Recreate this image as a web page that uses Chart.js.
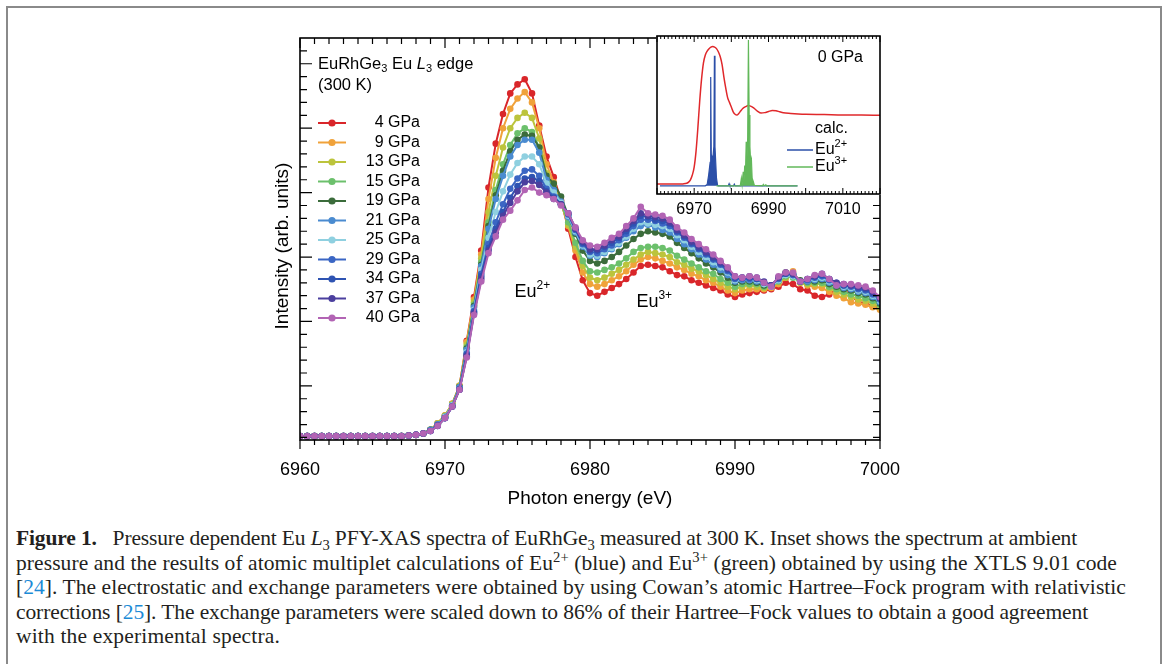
<!DOCTYPE html>
<html>
<head>
<meta charset="utf-8">
<title>EuRhGe3 Eu L3 PFY-XAS</title>
<script src="https://cdn.jsdelivr.net/npm/chart.js@4.4.1/dist/chart.umd.min.js"></script>
<style>
  body { margin: 0; background: #fff; }
  #frame { position: absolute; left: 6px; top: 6px; width: 1156px; height: 720px; box-sizing: border-box;
           border: 2px solid #8a8a8a; border-bottom: none; }
  #main { position: absolute; left: 0; top: 0; }
  #inset { position: absolute; left: 617px; top: 16px; }
  #caption { position: absolute; left: 16px; top: 526px; color: #231f20;
             font-family: "Liberation Serif", "DejaVu Serif", serif; font-size: 21.5px; line-height: 24.5px; }
  #caption .ln { white-space: nowrap; width: max-content; }
  #caption sub, #caption sup { font-size: 68%; line-height: 0; }
  #caption .ref { color: #1b8ad6; }
</style>
</head>
<body>
<div id="frame"></div>
<canvas id="main" width="1165" height="520"></canvas>
<canvas id="inset" width="283" height="214"></canvas>
<div id="caption">
  <div class="ln"><b>Figure 1.</b>&ensp; Pressure dependent Eu <i>L</i><sub>3</sub> PFY-XAS spectra of EuRhGe<sub>3</sub> measured at 300 K. Inset shows the spectrum at ambient</div>
  <div class="ln">pressure and the results of atomic multiplet calculations of Eu<sup>2+</sup> (blue) and Eu<sup>3+</sup> (green) obtained by using the XTLS 9.01 code</div>
  <div class="ln">[<span class="ref">24</span>]. The electrostatic and exchange parameters were obtained by using Cowan’s atomic Hartree–Fock program with relativistic</div>
  <div class="ln">corrections [<span class="ref">25</span>]. The exchange parameters were scaled down to 86% of their Hartree–Fock values to obtain a good agreement</div>
  <div class="ln">with the experimental spectra.</div>
</div>
<script>
// photon energy grid (eV) shared by all pressure spectra
const energy = [6960, 6960.5, 6961, 6961.5, 6962, 6962.5, 6963, 6963.5, 6964, 6964.5, 6965, 6965.5,
  6966, 6966.5, 6967, 6967.5, 6968, 6968.5, 6969, 6969.5, 6970, 6970.5, 6971, 6971.5, 6972, 6972.5,
  6973, 6973.5, 6974, 6974.5, 6975, 6975.5, 6976, 6976.5, 6977, 6977.5, 6978, 6978.5, 6979, 6979.5,
  6980, 6980.5, 6981, 6981.5, 6982, 6982.5, 6983, 6983.5, 6984, 6984.5, 6985, 6985.5, 6986, 6986.5,
  6987, 6987.5, 6988, 6988.5, 6989, 6989.5, 6990, 6990.5, 6991, 6991.5, 6992, 6992.5, 6993, 6993.5,
  6994, 6994.5, 6995, 6995.5, 6996, 6996.5, 6997, 6997.5, 6998, 6998.5, 6999, 6999.5, 7000];

const pressures = ['4 GPa', '9 GPa', '13 GPa', '15 GPa', '19 GPa', '21 GPa', '25 GPa', '29 GPa', '34 GPa', '37 GPa', '40 GPa'];
const colors = ['#d9262a', '#f0a23a', '#bcc43c', '#6cc06c', '#3b6c3b', '#4a8bd0', '#8fd0e0', '#3b66c4', '#2e53b2', '#4b3f9e', '#b264b4'];

const p4 = [0.11, 0.11, 0.11, 0.11, 0.11, 0.11, 0.11, 0.11, 0.11, 0.11, 0.11, 0.11, 0.11, 0.11, 0.11, 0.115, 0.12, 0.13,
  0.16, 0.21, 0.27, 0.36,
  0.50, 0.85, 1.19, 1.55, 2.04, 2.38, 2.61, 2.77, 2.84, 2.88, 2.77, 2.52, 2.28, 2.12, 1.94, 1.72, 1.50, 1.32, 1.22, 1.20,
  1.23, 1.26, 1.29, 1.33, 1.38, 1.43, 1.44, 1.43, 1.42, 1.39, 1.36, 1.35, 1.32, 1.30, 1.28, 1.26, 1.24, 1.21, 1.19, 1.21,
  1.22, 1.23, 1.24, 1.25, 1.27, 1.30, 1.29, 1.25, 1.24, 1.20, 1.19, 1.21, 1.25, 1.25, 1.20, 1.15, 1.14, 1.12, 1.10];
const p9 = [0.11, 0.11, 0.11, 0.11, 0.11, 0.11, 0.11, 0.11, 0.11, 0.11, 0.11, 0.11, 0.11, 0.11, 0.11, 0.115, 0.12, 0.13,
  0.16, 0.21, 0.27, 0.36,
  0.50, 0.84, 1.17, 1.52, 1.95, 2.27, 2.50, 2.65, 2.73, 2.78, 2.70, 2.50, 2.22, 2.08, 1.93, 1.74, 1.55, 1.38, 1.29, 1.27,
  1.29, 1.32, 1.35, 1.39, 1.44, 1.48, 1.50, 1.49, 1.47, 1.45, 1.42, 1.40, 1.37, 1.35, 1.32, 1.30, 1.27, 1.24, 1.22, 1.24,
  1.25, 1.25, 1.25, 1.26, 1.29, 1.34, 1.39, 1.30, 1.28, 1.27, 1.26, 1.23, 1.20, 1.18, 1.15, 1.14, 1.13, 1.11, 1.09];
const p13 = [0.11, 0.11, 0.11, 0.11, 0.11, 0.11, 0.11, 0.11, 0.11, 0.11, 0.11, 0.11, 0.11, 0.11, 0.11, 0.115, 0.12, 0.13,
  0.16, 0.21, 0.27, 0.36,
  0.50, 0.82, 1.15, 1.49, 1.85, 2.13, 2.35, 2.50, 2.58, 2.62, 2.58, 2.42, 2.15, 2.04, 1.92, 1.75, 1.58, 1.43, 1.34, 1.32,
  1.34, 1.37, 1.40, 1.44, 1.48, 1.52, 1.54, 1.53, 1.52, 1.50, 1.46, 1.44, 1.41, 1.39, 1.36, 1.33, 1.30, 1.27, 1.25, 1.27,
  1.28, 1.27, 1.26, 1.27, 1.31, 1.34, 1.35, 1.30, 1.29, 1.29, 1.29, 1.26, 1.23, 1.21, 1.19, 1.17, 1.16, 1.14, 1.11];
const p15 = [0.11, 0.11, 0.11, 0.11, 0.11, 0.11, 0.11, 0.11, 0.11, 0.11, 0.11, 0.11, 0.11, 0.11, 0.11, 0.115, 0.12, 0.13,
  0.16, 0.20, 0.26, 0.35,
  0.49, 0.80, 1.13, 1.46, 1.77, 2.02, 2.22, 2.37, 2.46, 2.50, 2.47, 2.35, 2.12, 2.02, 1.92, 1.77, 1.61, 1.47, 1.39, 1.38,
  1.40, 1.42, 1.45, 1.49, 1.54, 1.57, 1.58, 1.58, 1.57, 1.55, 1.51, 1.48, 1.45, 1.42, 1.39, 1.37, 1.33, 1.30, 1.27, 1.29,
  1.29, 1.29, 1.27, 1.27, 1.31, 1.35, 1.34, 1.31, 1.30, 1.30, 1.30, 1.27, 1.25, 1.23, 1.21, 1.20, 1.18, 1.16, 1.13];
const p19 = [0.11, 0.11, 0.11, 0.11, 0.11, 0.11, 0.11, 0.11, 0.11, 0.11, 0.11, 0.11, 0.11, 0.11, 0.11, 0.115, 0.12, 0.13,
  0.16, 0.20, 0.26, 0.35,
  0.49, 0.79, 1.12, 1.44, 1.74, 1.98, 2.17, 2.32, 2.41, 2.45, 2.44, 2.35, 2.13, 2.07, 1.97, 1.82, 1.68, 1.55, 1.47, 1.45,
  1.47, 1.50, 1.54, 1.59, 1.64, 1.68, 1.70, 1.69, 1.68, 1.66, 1.61, 1.57, 1.53, 1.49, 1.45, 1.42, 1.38, 1.34, 1.30, 1.31,
  1.31, 1.30, 1.28, 1.28, 1.33, 1.38, 1.36, 1.32, 1.31, 1.31, 1.32, 1.29, 1.27, 1.25, 1.24, 1.22, 1.21, 1.18, 1.14];
const p21 = [0.11, 0.11, 0.11, 0.11, 0.11, 0.11, 0.11, 0.11, 0.11, 0.11, 0.11, 0.11, 0.11, 0.11, 0.11, 0.115, 0.12, 0.13,
  0.16, 0.20, 0.26, 0.35,
  0.49, 0.78, 1.11, 1.43, 1.72, 1.95, 2.13, 2.28, 2.37, 2.41, 2.41, 2.31, 2.10, 2.02, 1.93, 1.81, 1.69, 1.58, 1.51, 1.50,
  1.53, 1.56, 1.60, 1.65, 1.70, 1.74, 1.75, 1.73, 1.71, 1.69, 1.64, 1.60, 1.56, 1.52, 1.48, 1.44, 1.40, 1.36, 1.31, 1.32,
  1.32, 1.31, 1.29, 1.28, 1.32, 1.37, 1.36, 1.31, 1.31, 1.32, 1.33, 1.30, 1.28, 1.26, 1.25, 1.23, 1.22, 1.19, 1.15];
const p25 = [0.11, 0.11, 0.11, 0.11, 0.11, 0.11, 0.11, 0.11, 0.11, 0.11, 0.11, 0.11, 0.11, 0.11, 0.11, 0.115, 0.12, 0.13,
  0.15, 0.20, 0.26, 0.35,
  0.48, 0.76, 1.09, 1.40, 1.65, 1.85, 2.01, 2.14, 2.23, 2.28, 2.28, 2.22, 2.07, 2.00, 1.92, 1.82, 1.70, 1.59, 1.52, 1.51,
  1.54, 1.57, 1.61, 1.66, 1.72, 1.77, 1.76, 1.75, 1.74, 1.72, 1.67, 1.63, 1.58, 1.54, 1.50, 1.46, 1.42, 1.38, 1.32, 1.33,
  1.33, 1.32, 1.29, 1.27, 1.32, 1.36, 1.35, 1.31, 1.32, 1.33, 1.34, 1.31, 1.29, 1.27, 1.26, 1.24, 1.23, 1.20, 1.16];
const p29 = [0.11, 0.11, 0.11, 0.11, 0.11, 0.11, 0.11, 0.11, 0.11, 0.11, 0.11, 0.11, 0.11, 0.11, 0.11, 0.115, 0.12, 0.13,
  0.15, 0.20, 0.25, 0.34,
  0.48, 0.75, 1.08, 1.37, 1.60, 1.77, 1.91, 2.03, 2.11, 2.17, 2.18, 2.13, 2.03, 1.97, 1.91, 1.83, 1.71, 1.60, 1.54, 1.53,
  1.56, 1.59, 1.63, 1.68, 1.74, 1.79, 1.79, 1.78, 1.76, 1.74, 1.69, 1.65, 1.60, 1.56, 1.52, 1.48, 1.44, 1.39, 1.33, 1.33,
  1.33, 1.33, 1.30, 1.28, 1.33, 1.37, 1.36, 1.31, 1.32, 1.34, 1.35, 1.32, 1.29, 1.28, 1.27, 1.25, 1.24, 1.21, 1.17];
const p34 = [0.11, 0.11, 0.11, 0.11, 0.11, 0.11, 0.11, 0.11, 0.11, 0.11, 0.11, 0.11, 0.11, 0.11, 0.11, 0.115, 0.12, 0.13,
  0.15, 0.19, 0.25, 0.34,
  0.47, 0.74, 1.07, 1.35, 1.57, 1.72, 1.85, 1.96, 2.05, 2.11, 2.12, 2.09, 2.01, 1.96, 1.91, 1.84, 1.72, 1.61, 1.55, 1.55,
  1.58, 1.61, 1.65, 1.70, 1.76, 1.82, 1.81, 1.79, 1.78, 1.76, 1.70, 1.66, 1.61, 1.57, 1.53, 1.49, 1.45, 1.40, 1.34, 1.34,
  1.34, 1.33, 1.30, 1.28, 1.34, 1.37, 1.37, 1.31, 1.33, 1.35, 1.36, 1.33, 1.30, 1.28, 1.28, 1.26, 1.25, 1.22, 1.18];
const p37 = [0.11, 0.11, 0.11, 0.11, 0.11, 0.11, 0.11, 0.11, 0.11, 0.11, 0.11, 0.11, 0.11, 0.11, 0.11, 0.115, 0.12, 0.13,
  0.15, 0.19, 0.25, 0.34,
  0.47, 0.73, 1.06, 1.33, 1.55, 1.69, 1.82, 1.92, 2.01, 2.08, 2.09, 2.06, 2.00, 1.95, 1.91, 1.84, 1.72, 1.62, 1.56, 1.56,
  1.59, 1.63, 1.66, 1.72, 1.78, 1.84, 1.82, 1.81, 1.80, 1.77, 1.71, 1.67, 1.62, 1.58, 1.54, 1.50, 1.46, 1.41, 1.35, 1.34,
  1.35, 1.34, 1.31, 1.28, 1.34, 1.38, 1.37, 1.31, 1.33, 1.35, 1.37, 1.33, 1.30, 1.29, 1.28, 1.27, 1.26, 1.23, 1.18];
const p40 = [0.11, 0.11, 0.11, 0.11, 0.11, 0.11, 0.11, 0.11, 0.11, 0.11, 0.11, 0.11, 0.11, 0.11, 0.11, 0.115, 0.12, 0.13,
  0.15, 0.19, 0.25, 0.34,
  0.47, 0.72, 1.05, 1.31, 1.53, 1.66, 1.79, 1.86, 1.94, 2.02, 2.04, 2.00, 1.98, 1.95, 1.90, 1.84, 1.73, 1.63, 1.59, 1.58,
  1.61, 1.65, 1.68, 1.74, 1.80, 1.89, 1.84, 1.83, 1.82, 1.79, 1.73, 1.69, 1.64, 1.60, 1.56, 1.52, 1.47, 1.42, 1.35, 1.34,
  1.35, 1.34, 1.30, 1.27, 1.35, 1.38, 1.38, 1.31, 1.33, 1.36, 1.37, 1.33, 1.28, 1.29, 1.29, 1.28, 1.27, 1.24, 1.19];
const spectra = [p4, p9, p13, p15, p19, p21, p25, p29, p34, p37, p40];

const xTicksMain = [6960, 6970, 6980, 6990, 7000];

// inset: ambient pressure spectrum and multiplet calculations
const insetEnergy = [6960, 6962, 6964, 6966, 6967, 6968, 6968.5, 6969, 6969.5, 6970, 6970.5, 6971, 6971.5, 6972,
  6972.5, 6973, 6973.5, 6974, 6974.5, 6975, 6975.5, 6976, 6976.5, 6977, 6977.5, 6978, 6978.5, 6979, 6979.5, 6980,
  6980.5, 6981, 6981.5, 6982, 6982.5, 6983, 6984, 6984.5, 6985, 6986, 6987, 6988, 6989, 6990, 6991, 6992, 6993,
  6994, 6996, 6998, 7000, 7005, 7010, 7015, 7020];
const inset0GPa = [0.063, 0.063, 0.063, 0.063, 0.064, 0.068, 0.075, 0.09, 0.12, 0.17, 0.27, 0.42, 0.59, 0.73,
  0.83, 0.88, 0.905, 0.92, 0.93, 0.933, 0.93, 0.92, 0.90, 0.87, 0.82, 0.74, 0.67, 0.61, 0.58, 0.55,
  0.52, 0.505, 0.50, 0.51, 0.525, 0.54, 0.555, 0.56, 0.558, 0.545, 0.525, 0.512, 0.515, 0.522, 0.528, 0.527, 0.52,
  0.514, 0.51, 0.507, 0.505, 0.503, 0.50, 0.50, 0.498];
const eu2Energy = [6960.8, 6973.0, 6973.5, 6973.9, 6974.3, 6974.45, 6974.6, 6975.0, 6975.3, 6975.45, 6975.6, 6976.0,
  6976.3, 6976.5, 6979.2, 6979.4, 6979.6, 6980.6, 6980.8, 6981.0, 6997.8];
const eu2Calc = [0.052, 0.052, 0.06, 0.12, 0.20, 0.74, 0.25, 0.22, 0.30, 0.875, 0.30, 0.10,
  0.055, 0.052, 0.052, 0.065, 0.052, 0.052, 0.062, 0.052, 0.052];
const eu3Energy = [6976.0, 6982.4, 6982.7, 6982.9, 6983.2, 6983.4, 6983.6, 6983.8, 6984.0, 6984.2, 6984.4, 6984.6,
  6984.8, 6985.0, 6985.2, 6985.4, 6985.6, 6985.9, 6986.2, 6988.4, 6988.6, 6988.8, 6989.3, 6989.5, 6997.8];
const eu3Calc = [0.052, 0.052, 0.10, 0.06, 0.14, 0.08, 0.18, 0.12, 0.33, 0.22, 0.36, 0.975,
  0.50, 0.30, 0.20, 0.22, 0.10, 0.08, 0.055, 0.052, 0.06, 0.052, 0.058, 0.052, 0.052];
const xTicksInset = [6970, 6990, 7010];

const FONT = '"Liberation Sans", Arial, sans-serif';
Chart.defaults.font.family = FONT;
Chart.defaults.color = '#000';

// text with sub/superscript and italic pieces: parts = [[text, kind], ...]
function drawRich(ctx, parts, x, y, size, align) {
  const fontFor = k => (k === 'i' ? 'italic ' : '') + ((k === 'sub' || k === 'sup') ? Math.round(size * 0.68) : size) + 'px ' + FONT;
  let w = 0;
  parts.forEach(([t, k]) => { ctx.font = fontFor(k); w += ctx.measureText(t).width; });
  let cx = align === 'right' ? x - w : align === 'center' ? x - w / 2 : x;
  ctx.textAlign = 'left';
  ctx.textBaseline = 'middle';
  parts.forEach(([t, k]) => {
    ctx.font = fontFor(k);
    const dy = k === 'sub' ? size * 0.3 : k === 'sup' ? -size * 0.36 : 0;
    ctx.fillText(t, cx, y + dy);
    cx += ctx.measureText(t).width;
  });
}

const mainDecor = {
  id: 'mainDecor',
  afterDraw(chart) {
    const { ctx, chartArea: a, scales: { x, y } } = chart;
    ctx.save();
    ctx.strokeStyle = '#000';
    ctx.lineWidth = 1.2;
    ctx.beginPath();
    for (let e = 6960; e <= 7000; e++) {
      const px = x.getPixelForValue(e);
      const major = e % 10 === 0;
      ctx.moveTo(px, a.bottom); ctx.lineTo(px, a.bottom + (major ? 9 : 5));
      ctx.moveTo(px, a.top); ctx.lineTo(px, a.top + (major ? 10 : 6));
    }
    for (let i = 1; i <= 31; i++) {
      const py = y.getPixelForValue(i / 10);
      const len = i % 5 === 0 ? 12 : 7;
      ctx.moveTo(a.left, py); ctx.lineTo(a.left + len, py);
      ctx.moveTo(a.right, py); ctx.lineTo(a.right - len, py);
    }
    ctx.stroke();
    ctx.lineWidth = 1.6;
    ctx.strokeRect(a.left, a.top, a.right - a.left, a.bottom - a.top);

    // y axis title
    ctx.fillStyle = '#000';
    ctx.save();
    ctx.translate(a.left - 17, 246);
    ctx.rotate(-Math.PI / 2);
    drawRich(ctx, [['Intensity (arb. units)', '']], 0, 0, 19, 'center');
    ctx.restore();

    // legend
    drawRich(ctx, [['EuRhGe', ''], ['3', 'sub'], [' Eu ', ''], ['L', 'i'], ['3', 'sub'], [' edge', '']], a.left + 18, 64, 16.5, 'left');
    drawRich(ctx, [['(300 K)', '']], a.left + 18, 85, 16.5, 'left');
    chart.data.datasets.forEach((ds, i) => {
      const ly = 123 + i * 19.5;
      ctx.strokeStyle = ds.borderColor;
      ctx.lineWidth = 2;
      ctx.beginPath(); ctx.moveTo(a.left + 18, ly); ctx.lineTo(a.left + 46, ly); ctx.stroke();
      ctx.fillStyle = ds.borderColor;
      ctx.beginPath(); ctx.arc(a.left + 32, ly, 3.6, 0, Math.PI * 2); ctx.fill();
      ctx.fillStyle = '#000';
      drawRich(ctx, [[ds.label, '']], a.left + 120, ly, 16, 'right');
    });

    // valence labels
    drawRich(ctx, [['Eu', ''], ['2+', 'sup']], x.getPixelForValue(6974.8), y.getPixelForValue(1.23), 18, 'left');
    drawRich(ctx, [['Eu', ''], ['3+', 'sup']], x.getPixelForValue(6983.2), y.getPixelForValue(1.15), 18, 'left');
    ctx.restore();
  }
};

const plainNumber = v => String(v);

new Chart(document.getElementById('main'), {
  type: 'line',
  data: {
    datasets: spectra.map((vals, i) => ({
      label: pressures[i],
      data: energy.map((e, k) => ({ x: e, y: vals[k] })),
      borderColor: colors[i],
      backgroundColor: colors[i],
      pointBackgroundColor: colors[i],
      order: spectra.length - i
    }))
  },
  options: {
    responsive: false,
    animation: false,
    devicePixelRatio: 1,
    layout: { padding: { left: 262, right: 285, top: 38, bottom: 0 } },
    plugins: { legend: { display: false }, tooltip: { enabled: false } },
    elements: {
      point: { radius: 3.3, borderWidth: 0 },
      line: { borderWidth: 2, tension: 0 }
    },
    scales: {
      x: {
        type: 'linear', min: 6960, max: 7000,
        grid: { display: false, drawTicks: false },
        border: { display: false },
        afterBuildTicks: s => { s.ticks = xTicksMain.map(v => ({ value: v })); },
        ticks: { color: '#000', font: { size: 18 }, padding: 19, maxRotation: 0, callback: plainNumber },
        title: { display: true, text: 'Photon energy (eV)', color: '#000', font: { size: 19 }, padding: { top: 0, bottom: 10 } },
        afterFit: s => { s.height = 80; }
      },
      y: {
        min: 0.08, max: 3.2,
        grid: { display: false, drawTicks: false },
        border: { display: false },
        ticks: { display: false },
        afterFit: s => { s.width = 38; }
      }
    }
  },
  plugins: [mainDecor]
});

const insetDecor = {
  id: 'insetDecor',
  beforeDraw(chart) {
    const { ctx, chartArea: a } = chart;
    ctx.save();
    ctx.fillStyle = '#fff';
    ctx.fillRect(a.left - 1, a.top - 1, a.right - a.left + 2, a.bottom - a.top + 2);
    ctx.restore();
  },
  afterDraw(chart) {
    const { ctx, chartArea: a, scales: { x } } = chart;
    ctx.save();
    ctx.strokeStyle = '#000';
    ctx.lineWidth = 1;
    ctx.beginPath();
    for (let e = 6960; e <= 7020; e++) {
      const px = x.getPixelForValue(e);
      const len = e % 10 === 0 ? 6 : 3;
      ctx.moveTo(px, a.bottom); ctx.lineTo(px, a.bottom - len);
      ctx.moveTo(px, a.top); ctx.lineTo(px, a.top + len);
    }
    ctx.stroke();
    ctx.lineWidth = 1.6;
    ctx.strokeRect(a.left, a.top, a.right - a.left, a.bottom - a.top);
    ctx.fillStyle = '#000';
    drawRich(ctx, [['0 GPa', '']], a.right - 17, a.top + 22, 16, 'right');
    drawRich(ctx, [['calc.', '']], a.left + 158, a.top + 93, 16, 'left');
    const ds = chart.data.datasets;
    [[ds[1], '2+', 114], [ds[2], '3+', 131]].forEach(([d, sup, ly]) => {
      ctx.strokeStyle = d.borderColor;
      ctx.lineWidth = 1.5;
      ctx.beginPath(); ctx.moveTo(a.left + 130, a.top + ly); ctx.lineTo(a.left + 156, a.top + ly); ctx.stroke();
      drawRich(ctx, [['Eu', ''], [sup, 'sup']], a.left + 158, a.top + ly, 16, 'left');
    });
    ctx.restore();
  }
};

new Chart(document.getElementById('inset'), {
  type: 'line',
  data: {
    datasets: [
      { label: '0 GPa', data: insetEnergy.map((e, k) => ({ x: e, y: inset0GPa[k] })),
        borderColor: '#e0282b', borderWidth: 1.5, pointRadius: 0, cubicInterpolationMode: 'monotone', order: 3 },
      { label: 'Eu2+', data: eu2Energy.map((e, k) => ({ x: e, y: eu2Calc[k] })),
        borderColor: '#2b4fa8', backgroundColor: '#2b4fa8', borderWidth: 1.2, pointRadius: 0,
        fill: { value: 0.052 }, order: 2 },
      { label: 'Eu3+', data: eu3Energy.map((e, k) => ({ x: e, y: eu3Calc[k] })),
        borderColor: '#62b85a', backgroundColor: '#62b85a', borderWidth: 1.2, pointRadius: 0,
        fill: { value: 0.052 }, order: 1 }
    ]
  },
  options: {
    responsive: false,
    animation: false,
    devicePixelRatio: 1,
    layout: { padding: { left: 40, right: 20, top: 20, bottom: 0 } },
    plugins: { legend: { display: false }, tooltip: { enabled: false } },
    scales: {
      x: {
        type: 'linear', min: 6960, max: 7020,
        grid: { display: false, drawTicks: false },
        border: { display: false },
        afterBuildTicks: s => { s.ticks = xTicksInset.map(v => ({ value: v })); },
        ticks: { color: '#000', font: { size: 16 }, padding: 6, maxRotation: 0, callback: plainNumber },
        afterFit: s => { s.height = 36; }
      },
      y: { display: false, min: 0, max: 1 }
    }
  },
  plugins: [insetDecor]
});

// stretch each caption line to the measured line length of the figure
const captionWidths = [1061, 1101, 1110, 1072, 264];
document.querySelectorAll('#caption .ln').forEach((ln, i) => {
  const w = ln.getBoundingClientRect().width;
  const n = ln.textContent.length;
  ln.style.letterSpacing = ((captionWidths[i] - w) / n).toFixed(3) + 'px';
});
</script>
</body>
</html>
